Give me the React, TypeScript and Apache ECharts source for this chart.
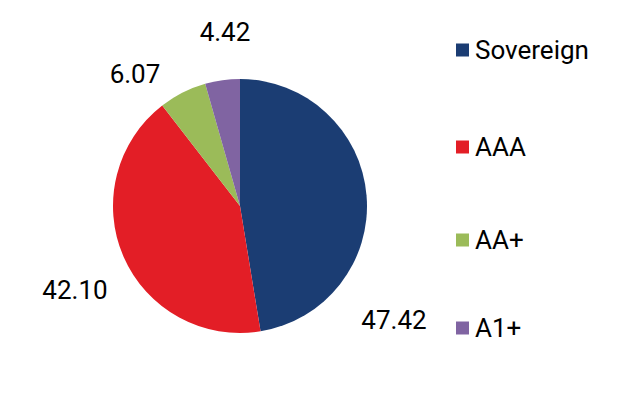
import React, { useEffect, useRef } from "react";
import * as echarts from "echarts";

const categories = ["Sovereign", "AAA", "AA+", "A1+"];
const values = [47.42, 42.10, 6.07, 4.42];
const colors = ["#1B3D73", "#E31E26", "#9BBB59", "#8064A2"];
// layout only: label anchors and legend item centres (page px)
const labelPos = [
  [394, 320],
  [75, 290],
  [135, 74],
  [225, 32],
];
const legendY = [50, 147, 240, 328];
const M = 8; // body margin

export default function App() {
  const ref = useRef<HTMLDivElement>(null);
  useEffect(() => {
    if (!ref.current) return;
    const chart = echarts.init(ref.current, undefined, { renderer: "svg" });
    chart.setOption({
      animation: false,
      textStyle: { fontFamily: "Roboto" },
      legend: categories.map((c, i) => ({
        orient: "vertical",
        left: 456 - M,
        top: legendY[i] - M - 15,
        padding: 0,
        itemWidth: 13,
        itemHeight: 13,
        itemGap: 0,
        icon: "rect",
        selectedMode: false,
        data: [c],
        textStyle: { fontSize: 26, color: "#000", fontFamily: "Roboto", fontWeight: 400, lineHeight: 30, padding: [0, 0, 0, 1] },
      })),
      series: [
        {
          type: "pie",
          center: [240 - M, 206 - M],
          radius: 127,
          startAngle: 90,
          clockwise: true,
          label: {
            show: true,
            position: "outside",
            formatter: (p: any) => p.value.toFixed(2),
            fontSize: 26,
            fontWeight: 400,
            color: "#000",
            fontFamily: "Roboto",
            overflow: "none",
          },
          labelLine: { show: false },
          labelLayout: (p: any) => ({
            x: labelPos[p.dataIndex][0] - M,
            y: labelPos[p.dataIndex][1] - M,
            align: "center",
            verticalAlign: "middle",
            width: 120,
          }),
          itemStyle: { borderWidth: 0 },
          emphasis: { disabled: true },
          data: categories.map((c, i) => ({
            name: c,
            value: values[i],
            itemStyle: { color: colors[i] },
          })),
        },
      ],
    });
    return () => chart.dispose();
  }, []);
  return <div ref={ref} style={{ width: 608, height: 379 }} />;
}
